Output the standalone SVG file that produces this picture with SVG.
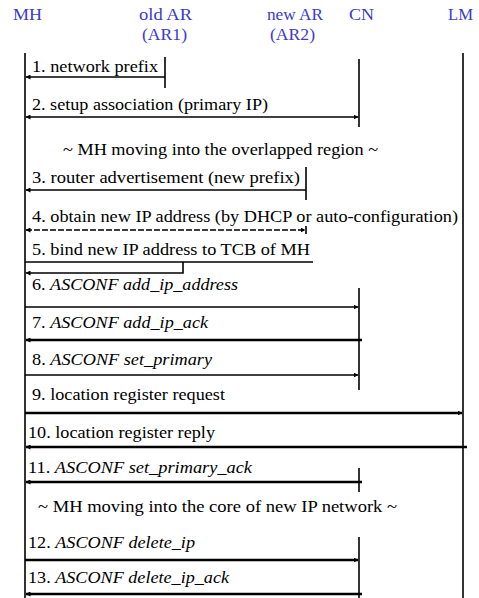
<svg xmlns="http://www.w3.org/2000/svg" width="479" height="598" viewBox="0 0 479 598">
<style>
.hd{font-family:"Liberation Serif","Times New Roman",serif;font-size:16px;fill:#3a3ad0}
.lbl{font-family:"Liberation Serif","Times New Roman",serif;font-size:16px;fill:#000}
.it{font-style:italic}
.ll{stroke:#000;stroke-width:1.6;fill:none}
.m{stroke:#000;stroke-width:1.6;fill:none}
.mt{stroke:#000;stroke-width:2.4;fill:none}
</style>
<defs>
<marker id="ah" viewBox="0 0 10 10" refX="9" refY="5" markerWidth="5" markerHeight="5" orient="auto-start-reverse" markerUnits="userSpaceOnUse"><path d="M0,0 L10,5 L0,10 z" fill="#000"/></marker>
</defs>
<g id="MH"><text class="hd" x="13" y="20" textLength="29" lengthAdjust="spacingAndGlyphs">MH</text><line class="ll" x1="25" y1="53" x2="25" y2="598"/></g>
<g id="oldAR"><text class="hd" x="139" y="20" textLength="53" lengthAdjust="spacingAndGlyphs">old AR</text><text class="hd" x="142" y="40" textLength="45" lengthAdjust="spacingAndGlyphs">(AR1)</text><line class="ll" x1="165" y1="57" x2="165" y2="88"/></g>
<g id="newAR"><text class="hd" x="267" y="20" textLength="56" lengthAdjust="spacingAndGlyphs">new AR</text><text class="hd" x="270" y="40" textLength="45" lengthAdjust="spacingAndGlyphs">(AR2)</text><line class="ll" x1="306" y1="167" x2="306" y2="200"/></g>
<g id="CN"><text class="hd" x="349" y="20" textLength="25" lengthAdjust="spacingAndGlyphs">CN</text><line class="ll" x1="359" y1="59" x2="359" y2="127"/><line class="ll" x1="359" y1="288" x2="359" y2="390"/><line class="ll" x1="359" y1="468" x2="359" y2="492"/><line class="ll" x1="359" y1="537" x2="359" y2="598"/></g>
<g id="LM"><text class="hd" x="448" y="20" textLength="25" lengthAdjust="spacingAndGlyphs">LM</text><line class="ll" x1="463" y1="53" x2="463" y2="598"/></g>
<g id="connectors">
<line class="m" x1="165" y1="77" x2="26" y2="77" marker-end="url(#ah)"/>
<line class="m" x1="26" y1="117" x2="358" y2="117" marker-start="url(#ah)" marker-end="url(#ah)"/>
<line class="m" x1="306" y1="190" x2="26" y2="190" marker-end="url(#ah)"/>
<line class="m" x1="26" y1="230" x2="305" y2="230" stroke-dasharray="6,2" marker-start="url(#ah)" marker-end="url(#ah)"/>
<line class="m" x1="306" y1="226" x2="306" y2="234"/>
<polyline class="m" points="25,262 313,262"/>
<polyline class="m" points="183,262 183,273 26,273" marker-end="url(#ah)"/>
<line class="m" x1="25" y1="307" x2="358" y2="307" marker-end="url(#ah)"/>
<line class="mt" x1="362" y1="340" x2="26" y2="340" marker-end="url(#ah)"/>
<line class="m" x1="25" y1="375" x2="358" y2="375" marker-end="url(#ah)"/>
<line class="mt" x1="25" y1="413" x2="462" y2="413" marker-end="url(#ah)"/>
<line class="mt" x1="467" y1="447" x2="26" y2="447" marker-end="url(#ah)"/>
<line class="mt" x1="362" y1="482" x2="26" y2="482" marker-end="url(#ah)"/>
<line class="mt" x1="25" y1="560" x2="358" y2="560" marker-end="url(#ah)"/>
<line class="mt" x1="362" y1="594" x2="26" y2="594" marker-end="url(#ah)"/>
</g>
<g id="labels" font-family="Liberation Serif, serif">
<text class="lbl" x="32" y="72" textLength="126" lengthAdjust="spacingAndGlyphs">1. network prefix</text>
<text class="lbl" x="32" y="110" textLength="236" lengthAdjust="spacingAndGlyphs">2. setup association (primary IP)</text>
<text class="lbl" x="63" y="155" textLength="315" lengthAdjust="spacingAndGlyphs">~ MH moving into the overlapped region ~</text>
<text class="lbl" x="32" y="183" textLength="268" lengthAdjust="spacingAndGlyphs">3. router advertisement (new prefix)</text>
<text class="lbl" x="32" y="222" textLength="426" lengthAdjust="spacingAndGlyphs">4. obtain new IP address (by DHCP or auto-configuration)</text>
<text class="lbl" x="32" y="255" textLength="278" lengthAdjust="spacingAndGlyphs">5. bind new IP address to TCB of MH</text>
<text class="lbl" x="32" y="290" textLength="206" lengthAdjust="spacingAndGlyphs">6. <tspan class="it">ASCONF add_ip_address</tspan></text>
<text class="lbl" x="32" y="328" textLength="176" lengthAdjust="spacingAndGlyphs">7. <tspan class="it">ASCONF add_ip_ack</tspan></text>
<text class="lbl" x="32" y="365" textLength="180" lengthAdjust="spacingAndGlyphs">8. <tspan class="it">ASCONF set_primary</tspan></text>
<text class="lbl" x="32" y="400" textLength="193" lengthAdjust="spacingAndGlyphs">9. location register request</text>
<text class="lbl" x="28" y="438" textLength="187" lengthAdjust="spacingAndGlyphs">10. location register reply</text>
<text class="lbl" x="28" y="473" textLength="224" lengthAdjust="spacingAndGlyphs">11. <tspan class="it">ASCONF set_primary_ack</tspan></text>
<text class="lbl" x="38" y="512" textLength="359" lengthAdjust="spacingAndGlyphs">~ MH moving into the core of new IP network ~</text>
<text class="lbl" x="28" y="548" textLength="167" lengthAdjust="spacingAndGlyphs">12. <tspan class="it">ASCONF delete_ip</tspan></text>
<text class="lbl" x="28" y="583" textLength="201" lengthAdjust="spacingAndGlyphs">13. <tspan class="it">ASCONF delete_ip_ack</tspan></text>
</g>
</svg>
